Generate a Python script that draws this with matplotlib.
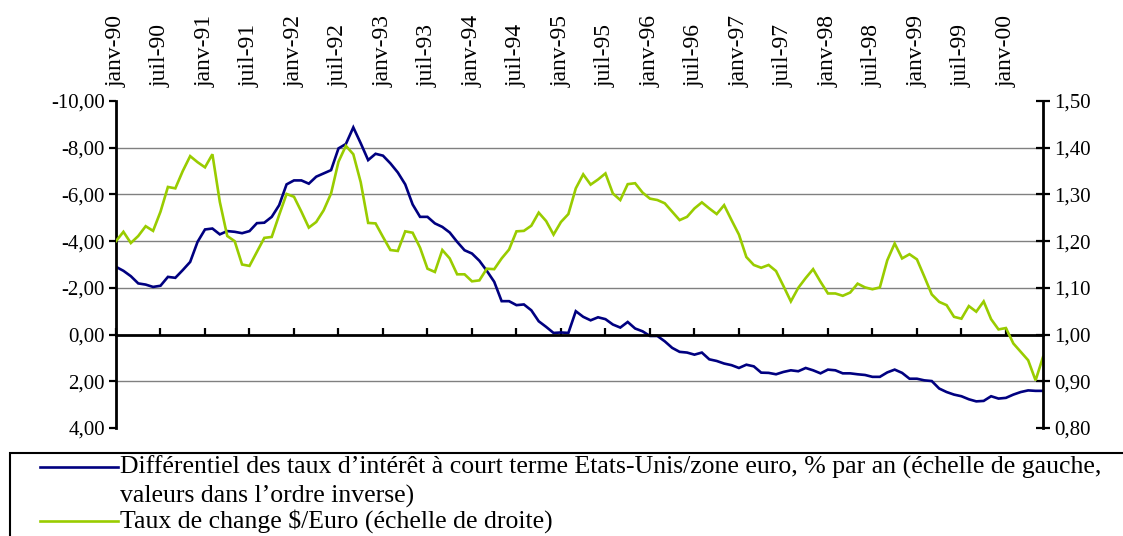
import matplotlib
matplotlib.use("Agg")
import matplotlib.pyplot as plt
from matplotlib.lines import Line2D
from matplotlib.patches import Rectangle
from matplotlib.ticker import FuncFormatter

# monthly data, janv-90 .. juin-00
diff_taux = [
    -2.90, -2.73, -2.50, -2.19, -2.14, -2.04, -2.09, -2.47, -2.43, -2.76,
    -3.11, -3.97, -4.50, -4.54, -4.29, -4.43, -4.40, -4.34, -4.43, -4.77,
    -4.79, -5.04, -5.54, -6.43, -6.60, -6.60, -6.46, -6.76, -6.90, -7.04,
    -7.97, -8.16, -8.87, -8.19, -7.47, -7.74, -7.66, -7.33, -6.94, -6.43,
    -5.57, -5.04, -5.04, -4.76, -4.61, -4.37, -3.97, -3.61, -3.47, -3.16,
    -2.73, -2.26, -1.43, -1.43, -1.26, -1.29, -1.04, -0.57, -0.33, -0.07,
    -0.09, -0.07, -1.00, -0.76, -0.61, -0.74, -0.66, -0.43, -0.30, -0.54,
    -0.26, -0.14, 0.06, 0.06, 0.29, 0.57, 0.74, 0.77, 0.86, 0.77,
    1.06, 1.13, 1.24, 1.31, 1.43, 1.29, 1.36, 1.63, 1.64, 1.70,
    1.60, 1.53, 1.57, 1.43, 1.53, 1.66, 1.50, 1.53, 1.66, 1.66,
    1.70, 1.73, 1.81, 1.81, 1.62, 1.50, 1.64, 1.89, 1.89, 1.96,
    1.99, 2.31, 2.46, 2.57, 2.64, 2.77, 2.86, 2.84, 2.64, 2.74,
    2.71, 2.57, 2.46, 2.39, 2.41, 2.41,
]
taux_change = [
    1.200, 1.220, 1.196, 1.211, 1.232, 1.222, 1.263, 1.316, 1.313, 1.350,
    1.382, 1.369, 1.358, 1.386, 1.284, 1.211, 1.200, 1.150, 1.147, 1.177,
    1.207, 1.209, 1.256, 1.301, 1.295, 1.263, 1.229, 1.241, 1.266, 1.302,
    1.370, 1.404, 1.386, 1.326, 1.239, 1.238, 1.209, 1.181, 1.179, 1.221,
    1.218, 1.186, 1.141, 1.134, 1.181, 1.163, 1.129, 1.129, 1.114, 1.116,
    1.141, 1.140, 1.163, 1.182, 1.221, 1.222, 1.233, 1.261, 1.243, 1.214,
    1.241, 1.258, 1.313, 1.343, 1.321, 1.332, 1.345, 1.302, 1.288, 1.322,
    1.324, 1.304, 1.291, 1.288, 1.281, 1.263, 1.245, 1.252, 1.270, 1.283,
    1.270, 1.258, 1.277, 1.245, 1.214, 1.166, 1.149, 1.143, 1.149, 1.136,
    1.104, 1.071, 1.100, 1.121, 1.140, 1.113, 1.088, 1.088, 1.083, 1.090,
    1.109, 1.101, 1.097, 1.101, 1.159, 1.195, 1.163, 1.172, 1.161, 1.124,
    1.086, 1.070, 1.063, 1.038, 1.034, 1.061, 1.049, 1.071, 1.033, 1.011,
    1.014, 0.981, 0.963, 0.945, 0.902, 0.952,
]
tick_labels = []
for yy in ["90", "91", "92", "93", "94", "95", "96", "97", "98", "99", "00"]:
    tick_labels += [f"janv-{yy}", f"juil-{yy}"]
tick_labels = tick_labels[:21]

label_diff = ("Différentiel des taux d’intérêt à court terme Etats-Unis/zone euro, "
              "% par an (échelle de gauche,\nvaleurs dans l’ordre inverse)")
label_change = "Taux de change $/Euro (échelle de droite)"

BLUE = "#000080"
GREEN = "#99CC00"
FS = 15
LEG_FS = 18.5

plt.rcParams["font.family"] = ["Liberation Serif", "DejaVu Serif"]
plt.rcParams["font.size"] = FS

fig = plt.figure(figsize=(11.23, 5.36), dpi=100)
ax = fig.add_axes([116 / 1123, 1 - 428 / 536, (1043 - 116) / 1123, 327 / 536])
ax2 = ax.twinx()

months = list(range(len(diff_taux)))
ax.plot(months, diff_taux, color=BLUE, lw=1.9, solid_joinstyle="miter")
ax2.plot(months, taux_change, color=GREEN, lw=1.9, solid_joinstyle="miter")

comma = FuncFormatter(lambda v, p: f"{v:.2f}".replace(".", ",").replace("-0,00", "0,00"))

# left axis (inverted)
ax.set_ylim(4, -10)
ax.set_yticks(range(-10, 5, 2))
ax.yaxis.set_major_formatter(comma)
ax.tick_params(axis="y", direction="out", length=5, width=1.6, pad=3)
ax.yaxis.grid(True, color="#808080", lw=1.0)
for val, gl in zip(range(-10, 5, 2), ax.yaxis.get_gridlines()):
    if val in (-10, 0, 4):
        gl.set_visible(False)
ax.set_axisbelow(True)

# category axis at zero, labels on top
ax.set_xlim(0, 125)
ax.set_xticks(range(0, 121, 6))
ax.set_xticklabels(tick_labels)
ax.spines["bottom"].set_position(("data", 0))
ax.tick_params(axis="x", direction="in", length=5, width=1.6, bottom=True, top=False,
               labelbottom=False, labeltop=True, labelrotation=90, pad=10,
               labelsize=17)
for lab in ax.get_xticklabels():
    lab.set_verticalalignment("bottom")

for side in ("top", "right"):
    ax.spines[side].set_visible(False)
for side in ("left", "bottom"):
    ax.spines[side].set_linewidth(2)
    ax.spines[side].set_color("black")

# right axis
ax2.set_ylim(0.8, 1.5)
ax2.set_yticks([0.8, 0.9, 1.0, 1.1, 1.2, 1.3, 1.4, 1.5])
ax2.yaxis.set_major_formatter(comma)
ax2.tick_params(axis="y", direction="inout", length=10, width=1.6, pad=3)
for side in ("top", "left", "bottom"):
    ax2.spines[side].set_visible(False)
ax2.spines["right"].set_linewidth(2)

# legend box
fig.patches.append(Rectangle((10 / 1123, -0.05), 1.2, 1 - 453 / 536 + 0.05,
                             transform=fig.transFigure, fill=False,
                             edgecolor="black", lw=1.5))
fig.lines.append(Line2D([40 / 1123, 118 / 1123], [1 - 467 / 536] * 2,
                        transform=fig.transFigure, color=BLUE, lw=1.9))
fig.lines.append(Line2D([40 / 1123, 118 / 1123], [1 - 521 / 536] * 2,
                        transform=fig.transFigure, color=GREEN, lw=1.9))
fig.text(120 / 1123, 1 - 467 / 536, label_diff.split("\n")[0], va="center", ha="left", fontsize=LEG_FS)
fig.text(120 / 1123, 1 - 496 / 536, label_diff.split("\n")[1], va="center", ha="left", fontsize=LEG_FS)
fig.text(120 / 1123, 1 - 521 / 536, label_change, va="center", ha="left", fontsize=LEG_FS)

fig.savefig("out.png", dpi=100)
